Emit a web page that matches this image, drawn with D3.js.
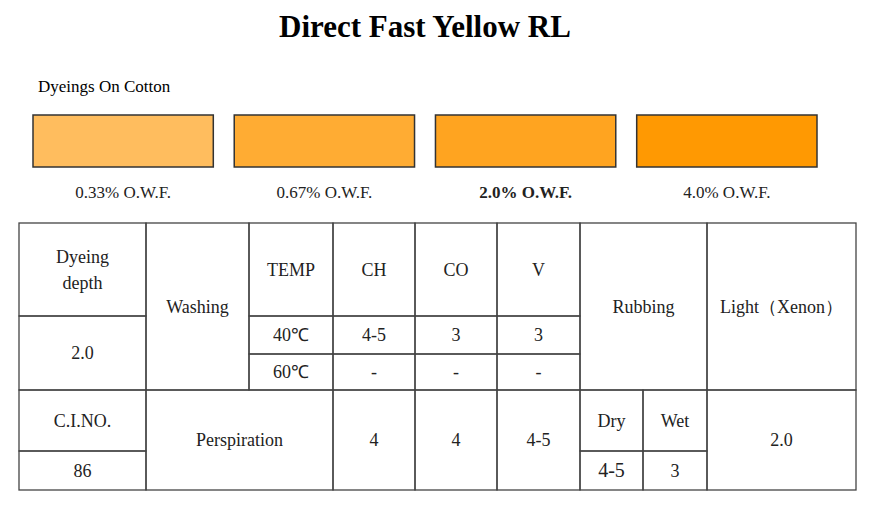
<!DOCTYPE html>
<html><head><meta charset="utf-8">
<script src="https://cdn.jsdelivr.net/npm/d3@7"></script>
<style>body{margin:0;background:#fff}text{font-family:"Liberation Serif","Times New Roman",serif;fill:#222}</style>
</head><body>
<svg id="chart" width="880" height="511"></svg>
<script>
const shades = ["0.33% O.W.F.", "0.67% O.W.F.", "2.0% O.W.F.", "4.0% O.W.F."];
const shadeColors = ["#FFBD5E", "#FFAC33", "#FFA420", "#FF9902"];
// table cells: [col0, col1, row0, row1, text]
const colEdges = [19, 146, 249, 333, 415, 497, 580, 643, 707, 856];
const rowEdges = [223, 316, 354, 390, 451, 490];
const cells = [
  [0,1,0,1,"Dyeing|depth"], [0,1,1,3,"2.0"], [1,2,0,3,"Washing"],
  [2,3,0,1,"TEMP"], [3,4,0,1,"CH"], [4,5,0,1,"CO"], [5,6,0,1,"V"],
  [2,3,1,2,"40℃"], [3,4,1,2,"4-5"], [4,5,1,2,"3"], [5,6,1,2,"3"],
  [2,3,2,3,"60℃"], [3,4,2,3,"-"], [4,5,2,3,"-"], [5,6,2,3,"-"],
  [6,8,0,3,"Rubbing"], [8,9,0,3,"Light（Xenon）"],
  [0,1,3,4,"C.I.NO."], [0,1,4,5,"86"], [1,3,3,5,"Perspiration"],
  [3,4,3,5,"4"], [4,5,3,5,"4"], [5,6,3,5,"4-5"],
  [6,7,3,4,"Dry"], [7,8,3,4,"Wet"], [6,7,4,5,"4-5"], [7,8,4,5,"3"], [8,9,3,5,"2.0"]
];
const svg = d3.select("#chart");
svg.append("text").attr("x",425).attr("y",37).attr("text-anchor","middle")
  .style("font-size","31px").style("font-weight","bold").style("fill","#000").text("Direct Fast Yellow RL");
svg.append("text").attr("x",38).attr("y",92).style("font-size","17px").style("fill","#000").text("Dyeings On Cotton");

const x = d3.scaleBand().domain(shades).range([33, 817]).paddingInner(0.104);
const color = d3.scaleOrdinal().domain(shades).range(shadeColors);
svg.selectAll("rect.sw").data(shades).join("rect").attr("class","sw")
  .attr("x",d=>x(d)).attr("y",115).attr("width",x.bandwidth()).attr("height",52)
  .attr("fill",d=>color(d)).attr("stroke","#333").attr("stroke-width",1.5);
svg.selectAll("text.lab").data(shades).join("text").attr("class","lab")
  .attr("x",d=>x(d)+x.bandwidth()/2).attr("y",198).attr("text-anchor","middle")
  .style("font-size","17px").style("font-weight",(d,i)=>i===2?"bold":null).text(d=>d);

const g = svg.append("g");
g.selectAll("rect").data(cells).join("rect")
  .attr("x",d=>colEdges[d[0]]).attr("y",d=>rowEdges[d[2]])
  .attr("width",d=>colEdges[d[1]]-colEdges[d[0]]).attr("height",d=>rowEdges[d[3]]-rowEdges[d[2]])
  .attr("fill","none").attr("stroke","#444").attr("stroke-width",1.3);
g.selectAll("text").data(cells).join("text")
  .attr("text-anchor","middle")
  .attr("transform",d=>{
    const cx=(colEdges[d[0]]+colEdges[d[1]])/2;
    let cy=(rowEdges[d[2]]+rowEdges[d[3]])/2;
    if (d[2]===0 && d[3]===1 && d[0]>=2) cy=rowEdges[0]+47;
    return `translate(${cx},${cy})`;})
  .style("font-size",d=>(d[4]==="4-5"&&d[2]===4)?"20px":"18px")
  .each(function(d){
    const lines=d[4].split("|");
    d3.select(this).selectAll("tspan").data(lines).join("tspan")
      .attr("x",0).attr("dy",(l,i)=>i===0?(6-(lines.length-1)*13)+"px":"26px").text(l=>l);
  });
</script>
</body></html>
